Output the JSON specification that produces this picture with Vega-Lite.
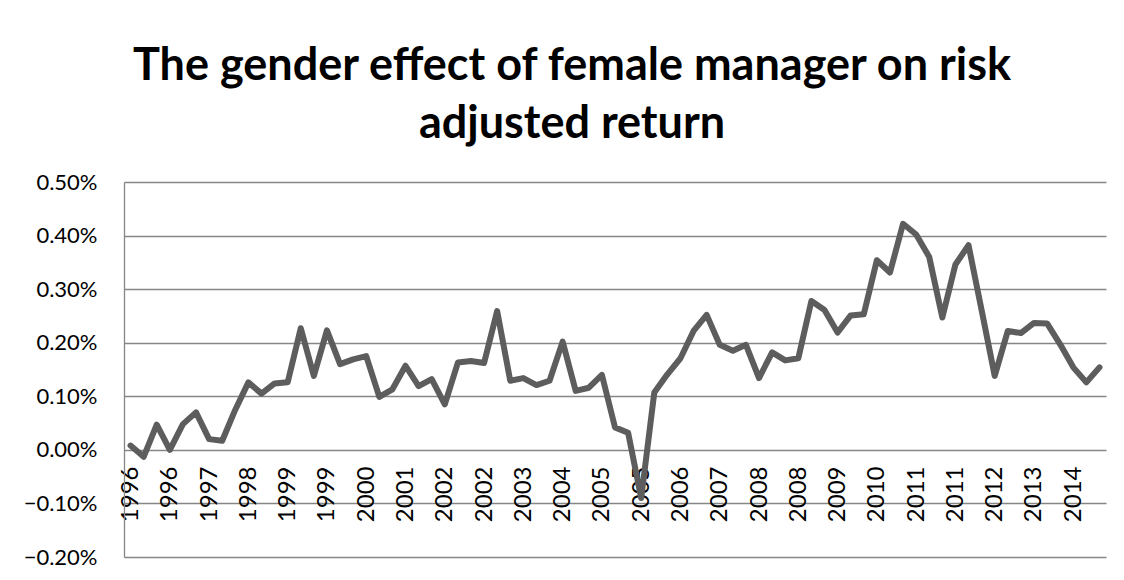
{
  "$schema": "https://vega.github.io/schema/vega-lite/v6.json",
  "width": 982,
  "height": 375,
  "autosize": {"type": "none"},
  "padding": {"left": 124, "top": 182, "right": 18, "bottom": 23},
  "background": "white",
  "title": {
    "text": ["The gender effect of female manager on risk", "adjusted return"],
    "font": "Lato",
    "fontSize": 45,
    "fontWeight": "bold",
    "color": "black",
    "anchor": "middle",
    "dx": -43,
    "offset": 24,
    "lineHeight": 58
  },
  "data": {
    "values": [
      {"q": "1996Q1", "v": 0.00008},
      {"q": "1996Q2", "v": -0.00013},
      {"q": "1996Q3", "v": 0.00047},
      {"q": "1996Q4", "v": 0.0},
      {"q": "1997Q1", "v": 0.00048},
      {"q": "1997Q2", "v": 0.0007},
      {"q": "1997Q3", "v": 0.0002},
      {"q": "1997Q4", "v": 0.00017},
      {"q": "1998Q1", "v": 0.00075},
      {"q": "1998Q2", "v": 0.00126},
      {"q": "1998Q3", "v": 0.00105},
      {"q": "1998Q4", "v": 0.00124},
      {"q": "1999Q1", "v": 0.00126},
      {"q": "1999Q2", "v": 0.00227},
      {"q": "1999Q3", "v": 0.00138},
      {"q": "1999Q4", "v": 0.00223},
      {"q": "2000Q1", "v": 0.0016},
      {"q": "2000Q2", "v": 0.00169},
      {"q": "2000Q3", "v": 0.00175},
      {"q": "2000Q4", "v": 0.00099},
      {"q": "2001Q1", "v": 0.00113},
      {"q": "2001Q2", "v": 0.00157},
      {"q": "2001Q3", "v": 0.00119},
      {"q": "2001Q4", "v": 0.00132},
      {"q": "2002Q1", "v": 0.00085},
      {"q": "2002Q2", "v": 0.00163},
      {"q": "2002Q3", "v": 0.00166},
      {"q": "2002Q4", "v": 0.00162},
      {"q": "2003Q1", "v": 0.00259},
      {"q": "2003Q2", "v": 0.00129},
      {"q": "2003Q3", "v": 0.00134},
      {"q": "2003Q4", "v": 0.00121},
      {"q": "2004Q1", "v": 0.00129},
      {"q": "2004Q2", "v": 0.00202},
      {"q": "2004Q3", "v": 0.0011},
      {"q": "2004Q4", "v": 0.00116},
      {"q": "2005Q1", "v": 0.0014},
      {"q": "2005Q2", "v": 0.00042},
      {"q": "2005Q3", "v": 0.00032},
      {"q": "2005Q4", "v": -0.0009},
      {"q": "2006Q1", "v": 0.00107},
      {"q": "2006Q2", "v": 0.00141},
      {"q": "2006Q3", "v": 0.00171},
      {"q": "2006Q4", "v": 0.00222},
      {"q": "2007Q1", "v": 0.00252},
      {"q": "2007Q2", "v": 0.00196},
      {"q": "2007Q3", "v": 0.00185},
      {"q": "2007Q4", "v": 0.00196},
      {"q": "2008Q1", "v": 0.00134},
      {"q": "2008Q2", "v": 0.00182},
      {"q": "2008Q3", "v": 0.00167},
      {"q": "2008Q4", "v": 0.00171},
      {"q": "2009Q1", "v": 0.00278},
      {"q": "2009Q2", "v": 0.00261},
      {"q": "2009Q3", "v": 0.00219},
      {"q": "2009Q4", "v": 0.00251},
      {"q": "2010Q1", "v": 0.00253},
      {"q": "2010Q2", "v": 0.00354},
      {"q": "2010Q3", "v": 0.00331},
      {"q": "2010Q4", "v": 0.00422},
      {"q": "2011Q1", "v": 0.00402},
      {"q": "2011Q2", "v": 0.0036},
      {"q": "2011Q3", "v": 0.00247},
      {"q": "2011Q4", "v": 0.00346},
      {"q": "2012Q1", "v": 0.00382},
      {"q": "2012Q2", "v": 0.00261},
      {"q": "2012Q3", "v": 0.00138},
      {"q": "2012Q4", "v": 0.00222},
      {"q": "2013Q1", "v": 0.00218},
      {"q": "2013Q2", "v": 0.00237},
      {"q": "2013Q3", "v": 0.00236},
      {"q": "2013Q4", "v": 0.00197},
      {"q": "2014Q1", "v": 0.00154},
      {"q": "2014Q2", "v": 0.00126},
      {"q": "2014Q3", "v": 0.00154}
    ]
  },
  "mark": {"type": "line", "color": "#5d5d5d", "strokeWidth": 6, "strokeJoin": "round", "strokeCap": "round"},
  "encoding": {
    "x": {
      "field": "q",
      "type": "ordinal",
      "sort": null,
      "scale": {"type": "point", "padding": 0.5},
      "axis": {
        "title": null,
        "values": ["1996Q1", "1996Q4", "1997Q3", "1998Q2", "1999Q1", "1999Q4", "2000Q3", "2001Q2", "2002Q1", "2002Q4", "2003Q3", "2004Q2", "2005Q1", "2005Q4", "2006Q3", "2007Q2", "2008Q1", "2008Q4", "2009Q3", "2010Q2", "2011Q1", "2011Q4", "2012Q3", "2013Q2", "2014Q1"],
        "labelExpr": "slice(datum.value, 0, 4)",
        "labelAngle": 270,
        "labelAlign": "right",
        "labelBaseline": "middle",
        "labelOverlap": false,
        "offset": -107,
        "domain": false,
        "ticks": false,
        "grid": false,
        "labelFont": "Lato",
        "labelFontSize": 24,
        "labelColor": "black",
        "labelPadding": 16
      }
    },
    "y": {
      "field": "v",
      "type": "quantitative",
      "scale": {"domain": [-0.002, 0.005], "nice": false, "zero": false},
      "axis": {
        "title": null,
        "format": ".2%",
        "values": [-0.002, -0.001, 0, 0.001, 0.002, 0.003, 0.004, 0.005],
        "grid": true,
        "gridColor": "#868686",
        "gridWidth": 1.3,
        "domainColor": "#868686",
        "domainWidth": 1.3,
        "ticks": false,
        "labelFont": "Lato",
        "labelFontSize": 22,
        "labelColor": "black",
        "labelPadding": 27
      }
    }
  },
  "config": {"view": {"stroke": null}}
}
